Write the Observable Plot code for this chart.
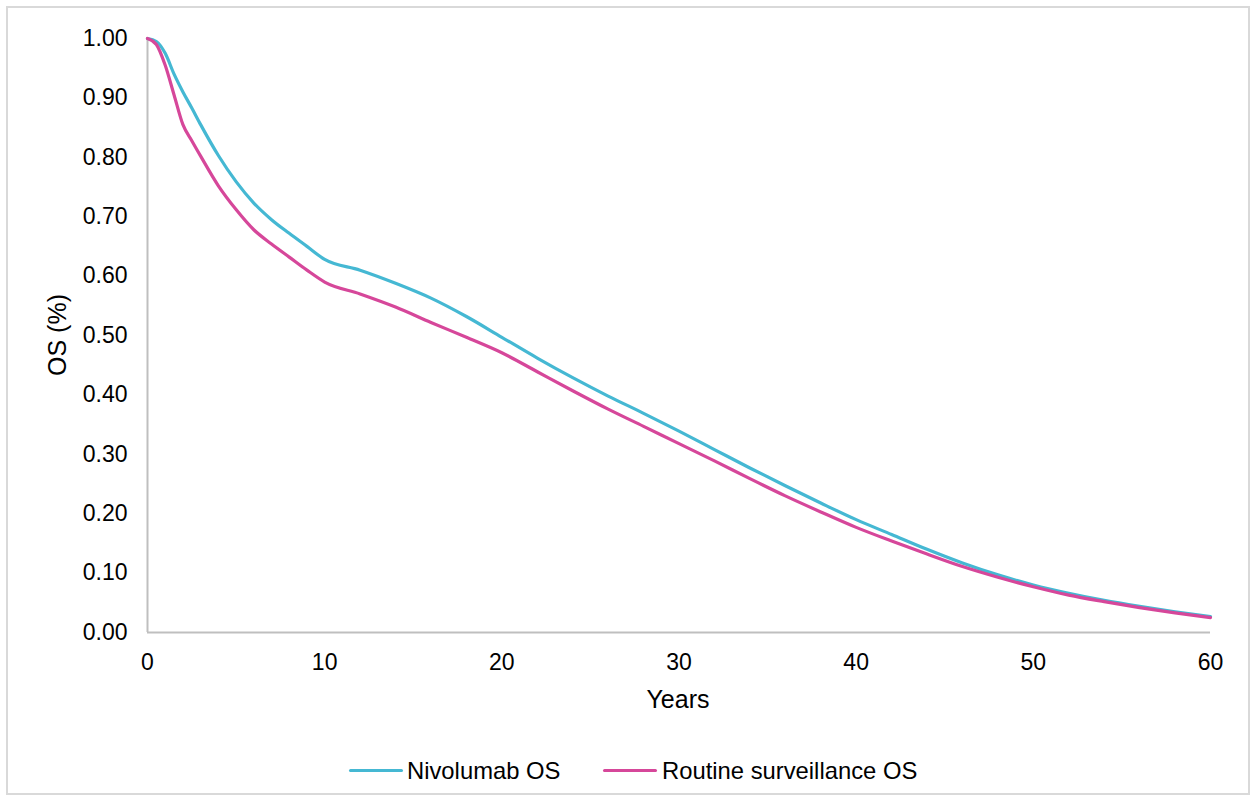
<!DOCTYPE html>
<html>
<head>
<meta charset="utf-8">
<script src="https://cdn.jsdelivr.net/npm/d3@7"></script>
<script src="https://cdn.jsdelivr.net/npm/@observablehq/plot@0.6"></script>
<style>
  html, body { margin: 0; padding: 0; background: #fff; }
  body { font-family: "Liberation Sans", Arial, sans-serif; }
  #wrap { position: relative; width: 1257px; height: 803px; overflow: hidden; }
  #frame { position: absolute; left: 6px; top: 6px; width: 1244px; height: 789px; border: 2px solid #d9d9d9; box-sizing: border-box; }
  #chart { position: absolute; left: 0; top: 0; }
  .lbl { position: absolute; color: #000; white-space: nowrap; }
  .sw { position: absolute; height: 3px; border-radius: 1.5px; }
</style>
</head>
<body>
<div id="wrap">
  <div id="frame"></div>
  <div id="chart"></div>
  <div class="lbl" style="left:678px; top:699px; transform:translate(-50%,-50%); font-size:25px;">Years</div>
  <div class="lbl" style="left:57px; top:335px; transform:translate(-50%,-50%) rotate(-90deg); font-size:25px;">OS (%)</div>
  <div id="legend"></div>
</div>
<script>
const years = [0, 0.5, 1, 1.5, 2, 2.5, 3, 4, 5, 6, 7, 8, 9, 10, 12, 14, 16, 18, 20, 22, 24, 26, 28, 30, 32, 34, 36, 38, 40, 42, 44, 46, 48, 50, 52, 54, 56, 58, 60];
const nivolumabOS = [1.0, 0.995, 0.975, 0.94, 0.91, 0.883, 0.855, 0.803, 0.759, 0.723, 0.695, 0.672, 0.65, 0.628, 0.61, 0.588, 0.563, 0.532, 0.497, 0.462, 0.429, 0.398, 0.369, 0.339, 0.308, 0.277, 0.247, 0.218, 0.19, 0.165, 0.14, 0.117, 0.097, 0.08, 0.066, 0.054, 0.044, 0.035, 0.027];
const surveillanceOS = [1.0, 0.99, 0.955, 0.905, 0.855, 0.828, 0.802, 0.752, 0.712, 0.678, 0.654, 0.632, 0.61, 0.59, 0.57, 0.548, 0.522, 0.497, 0.471, 0.439, 0.407, 0.376, 0.347, 0.318, 0.289, 0.259, 0.23, 0.203, 0.177, 0.154, 0.132, 0.111, 0.093, 0.077, 0.063, 0.052, 0.042, 0.033, 0.025];
const seriesNames = ["Nivolumab OS", "Routine surveillance OS"];
const seriesColors = ["#45b8d3", "#d6479a"];
const xTicks = [0, 10, 20, 30, 40, 50, 60];
const yTicks = [0, 0.1, 0.2, 0.3, 0.4, 0.5, 0.6, 0.7, 0.8, 0.9, 1.0];

const rows = [];
years.forEach((t, i) => {
  rows.push({series: seriesNames[0], t, v: nivolumabOS[i]});
  rows.push({series: seriesNames[1], t, v: surveillanceOS[i]});
});

const chart = Plot.plot({
  width: 1257,
  height: 720,
  marginLeft: 147,
  marginRight: 47,
  marginTop: 38,
  marginBottom: 88,
  style: {fontFamily: '"Liberation Sans", Arial, sans-serif', fontSize: "23px", color: "#000", background: "transparent"},
  x: {domain: [0, 60], ticks: xTicks, tickSize: 0, tickPadding: 21, label: null},
  y: {domain: [0, 1], ticks: yTicks, tickSize: 0, tickPadding: 20, tickFormat: d3.format(".2f"), label: null},
  color: {domain: seriesNames, range: seriesColors},
  marks: [
    Plot.ruleX([0], {stroke: "#bfbfbf", strokeWidth: 2}),
    Plot.ruleY([0], {stroke: "#bfbfbf", strokeWidth: 2}),
    Plot.line(rows, {x: "t", y: "v", z: "series", stroke: "series", strokeWidth: 3.2, curve: "monotone-x"})
  ]
});
document.getElementById("chart").appendChild(chart);

const legend = document.getElementById("legend");
const swX = [349, 603];
const txX = [407, 662];
seriesNames.forEach((name, i) => {
  const sw = document.createElement("div");
  sw.className = "sw";
  sw.style.left = swX[i] + "px";
  sw.style.top = "769px";
  sw.style.width = "54px";
  sw.style.background = seriesColors[i];
  legend.appendChild(sw);
  const tx = document.createElement("div");
  tx.className = "lbl";
  tx.style.left = txX[i] + "px";
  tx.style.top = "771px";
  tx.style.transform = "translateY(-50%)";
  tx.style.fontSize = "23.8px";
  tx.textContent = name;
  legend.appendChild(tx);
});
</script>
</body>
</html>
